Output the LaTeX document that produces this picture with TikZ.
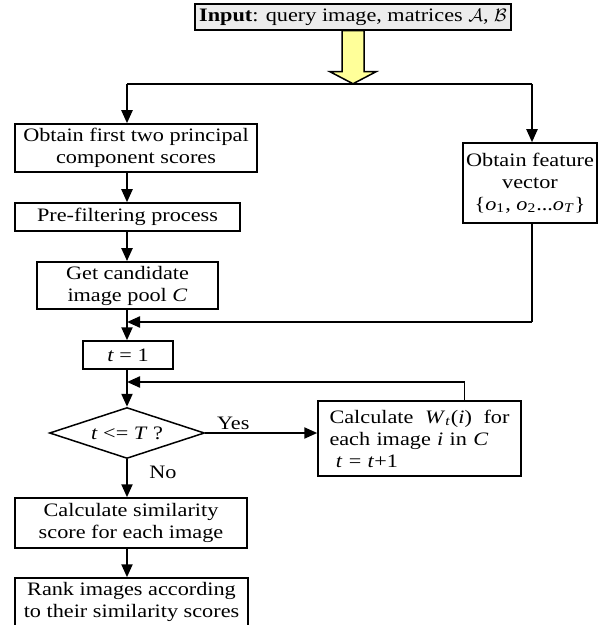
\documentclass[tikz,border=0pt]{standalone}
\usepackage{fontspec}
\setmainfont{Liberation Serif}[FakeStretch=1.17]
\usepackage{tikz}
\usetikzlibrary{arrows.meta,shapes.geometric,calc}
\definecolor{arrowyellow}{HTML}{FFFF99}

\begin{document}
\begin{tikzpicture}[x=0.5pt, y=-0.5pt,
    every node/.style={font=\fontsize{9.5}{11}\selectfont},
    box/.style={draw, line width=0.75pt, align=center, inner sep=2pt},
    flow/.style={-{Triangle[length=6.5pt,width=5.5pt]}, line width=1.1pt}]
  \useasboundingbox (0,0) rectangle (608,625);
  \node (input) [box, fill=gray!15, minimum height=13pt] at (353,17) {\textbf{Input}: query image, matrices $\mathcal{A}$, $\mathcal{B}$};
  \draw[line width=0.75pt, fill=arrowyellow] ($(input.south)+(-11,0)$) -- ++(22,0) -- ++(0,41) -- ++(12,0) -- ++(-23,12) -- ++(-23,-12) -- ++(12,0) -- cycle;
  \coordinate (lt) at (127,84);
  \coordinate (rt) at (532,84);
  \coordinate (join1) at (127,322);
  \coordinate (join2) at (127,382);
  \node (box1) [box, minimum width=121pt, minimum height=24pt] at (136,148) {Obtain first two principal\\component scores};
  \node (box2) [box, minimum width=112.5pt, minimum height=14pt] at (127.5,217) {Pre-filtering process};
  \node (box3) [box, minimum width=90.5pt, minimum height=23.5pt] at (127.5,285.5) {Get candidate\\image pool \textit{C}};
  \node (feat) [box, inner sep=1pt, minimum width=67pt, minimum height=40pt] at (530,183) {Obtain feature\\vector\\\{\textit{o}\textsubscript{1}, \textit{o}\textsubscript{2}...\textit{o}\textsubscript{\textit{T}}\}};
  \node (t1) [box, minimum width=45pt, minimum height=14pt] at (128,355) {\textit{t} = 1};
  \node (test) [draw, diamond, aspect=3, line width=0.75pt, inner sep=1pt, minimum width=77.5pt, minimum height=25.5pt] at (127,433) {\textit{t} <= \textit{T} ?};
  \node (calc) [box, align=left, text width=90pt, minimum width=101.5pt, minimum height=37.5pt] at (419.5,438.5) {Calculate\hfill\textit{W}\textsubscript{\textit{t}}(\textit{i})\hfill for\\each image \textit{i} in \textit{C}\\\ \textit{t} = \textit{t}+1};
  \node (sim) [box, minimum width=116pt, minimum height=25pt] at (131,523) {Calculate similarity\\score for each image};
  \node (rank) [box, minimum width=116.5pt, minimum height=24pt] at (131.5,602) {Rank images according\\to their similarity scores};
  \node (nolbl) at (163,472) {No};
  \draw[line width=1.1pt] (lt) -- (rt);
  \draw[flow] (lt) -- (lt |- box1.north);
  \draw[flow] (rt) -- (rt |- feat.north);
  \draw[flow] (lt |- box1.south) -- (lt |- box2.north);
  \draw[flow] (lt |- box2.south) -- (lt |- box3.north);
  \draw[flow] (lt |- box3.south) -- (lt |- t1.north);
  \draw[line width=0.6pt] (rt |- feat.south) -- (rt |- join1);
  \draw[flow] (rt |- join1) -- (join1);
  \draw[flow] (lt |- t1.south) -- (test.north);
  \draw[line width=0.6pt] ([xshift=22.5pt]calc.north) -- ([xshift=22.5pt]calc.north |- join2);
  \draw[flow] ([xshift=22.5pt]calc.north |- join2) -- (join2);
  \draw[flow] (test.east) -- node[above, pos=0.25, inner sep=1pt] (yeslbl) {Yes} (test.east -| calc.west);
  \draw[flow] (test.south) -- (lt |- sim.north);
  \draw[flow] (lt |- sim.south) -- (lt |- rank.north);
\end{tikzpicture}
\end{document}
